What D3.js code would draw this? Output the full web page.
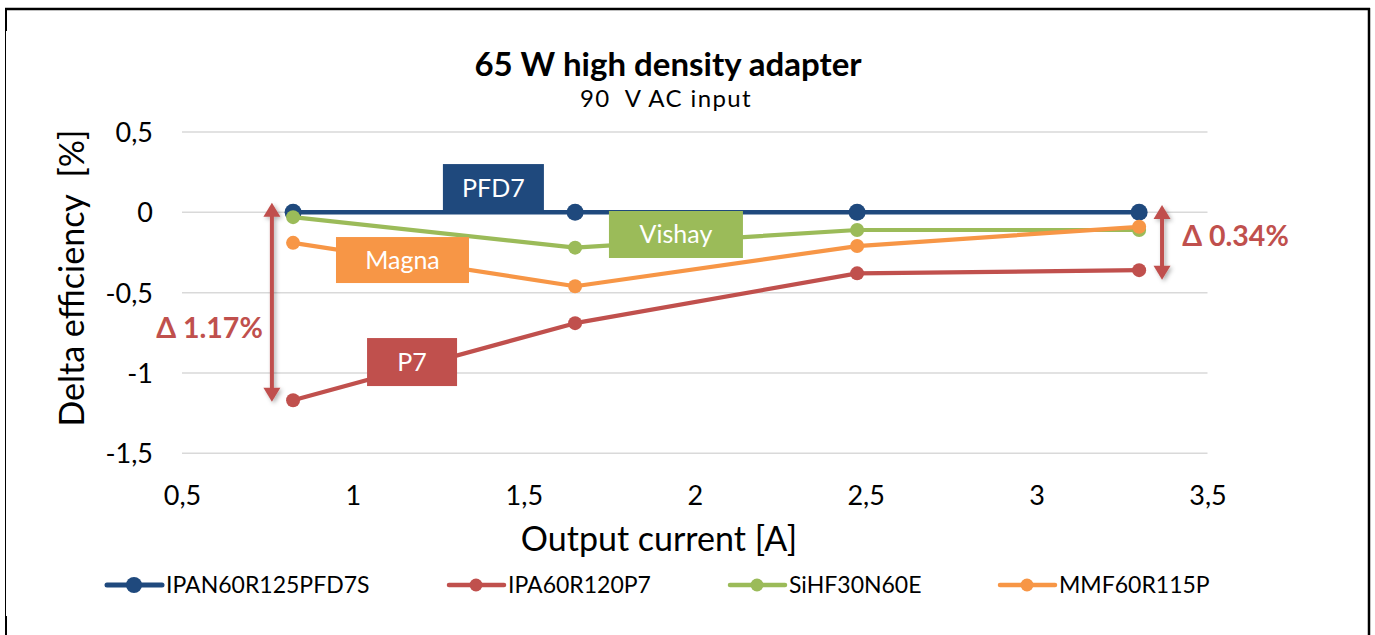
<!DOCTYPE html>
<html>
<head>
<meta charset="utf-8">
<script src="https://cdn.jsdelivr.net/npm/d3@7"></script>
<style>
  html, body { margin: 0; padding: 0; background: #fff; }
  svg text { font-family: Lato, "Open Sans", sans-serif; }
</style>
</head>
<body>
<svg id="chart" width="1375" height="635"></svg>
<script>
// ---- data ----
const currents = [0.825, 1.65, 2.475, 3.3];
const seriesNames = ["IPAN60R125PFD7S", "IPA60R120P7", "SiHF30N60E", "MMF60R115P"];
const seriesColors = ["#1F497D", "#C0504D", "#9BBB59", "#F79646"];
const pfd7Values = [0, 0, 0, 0];
const p7Values = [-1.17, -0.69, -0.38, -0.36];
const vishayValues = [-0.03, -0.22, -0.11, -0.11];
const magnaValues = [-0.19, -0.46, -0.21, -0.09];
const xTicks = [0.5, 1, 1.5, 2, 2.5, 3, 3.5];
const xTickLabels = ["0,5", "1", "1,5", "2", "2,5", "3", "3,5"];
const yTicks = [0.5, 0, -0.5, -1, -1.5];
const yTickLabels = ["0,5", "0", "-0,5", "-1", "-1,5"];
const boxLabels = ["PFD7", "P7", "Vishay", "Magna"];
const boxX = [1.411, 1.173, 1.945, 1.145];
const boxY = [0.151, -0.932, -0.138, -0.297];
const deltaLabels = ["Δ 1.17%", "Δ 0.34%"];
const arrowX = [0.763, 3.367];
const arrowTop = [0.06, 0.045];
const arrowBottom = [-1.179, -0.42];
const title = "65 W high density adapter";
const subtitle = "90  V AC input";
const xTitle = "Output current [A]";
const yTitle = "Delta efficiency  [%]";

const allValues = [pfd7Values, p7Values, vishayValues, magnaValues];

const svg = d3.select("#chart");
const x = d3.scaleLinear().domain([0.5, 3.5]).range([182, 1207.5]);
const y = d3.scaleLinear().domain([-1.5, 0.5]).range([453.3, 132]);

// border
svg.append("line").attr("x1", 5).attr("x2", 1370).attr("y1", 9).attr("y2", 9).attr("stroke", "#000").attr("stroke-width", 2.5);
svg.append("line").attr("x1", 1369).attr("x2", 1369).attr("y1", 8).attr("y2", 635).attr("stroke", "#000").attr("stroke-width", 2.5);
svg.append("line").attr("x1", 5.5).attr("x2", 5.5).attr("y1", 8).attr("y2", 635).attr("stroke", "#000").attr("stroke-width", 1);
svg.append("line").attr("x1", 6).attr("x2", 6).attr("y1", 8).attr("y2", 31).attr("stroke", "#000").attr("stroke-width", 2);
svg.append("line").attr("x1", 6).attr("x2", 6).attr("y1", 616).attr("y2", 635).attr("stroke", "#000").attr("stroke-width", 2);

// title
svg.append("text").attr("x", 668).attr("y", 75.5).attr("text-anchor", "middle")
  .attr("font-size", 33).attr("font-weight", "bold").attr("fill", "#000").text(title);
svg.append("text").attr("x", 666).attr("y", 107).attr("text-anchor", "middle")
  .attr("font-size", 24).attr("letter-spacing", 1.4).attr("fill", "#000").style("white-space", "pre").text(subtitle);

// gridlines
svg.append("g").selectAll("line").data(yTicks).join("line")
  .attr("x1", x(0.5)).attr("x2", x(3.5))
  .attr("y1", d => y(d)).attr("y2", d => y(d))
  .attr("stroke", "#d9d9d9").attr("stroke-width", 1.5);

// y axis
const yAxis = d3.axisLeft(y).tickValues(yTicks).tickSize(0).tickPadding(0)
  .tickFormat((d, i) => yTickLabels[i]);
const gy = svg.append("g").attr("transform", "translate(153,0)").call(yAxis);
gy.select(".domain").remove();
gy.selectAll("text").attr("font-size", 27).attr("fill", "#000")
  .attr("font-family", "Lato, sans-serif").attr("dy", "0.35em");

// x axis
const xAxis = d3.axisBottom(x).tickValues(xTicks).tickSize(0).tickPadding(0)
  .tickFormat((d, i) => xTickLabels[i]);
const gx = svg.append("g").attr("transform", "translate(0,486)").call(xAxis);
gx.select(".domain").remove();
gx.selectAll("text").attr("font-size", 27).attr("fill", "#000")
  .attr("font-family", "Lato, sans-serif").attr("dy", "0.72em");

// axis titles
svg.append("text").attr("x", 659).attr("y", 551).attr("text-anchor", "middle")
  .attr("font-size", 34).attr("fill", "#000").text(xTitle);
svg.append("text").attr("transform", "translate(84,278) rotate(-90)").attr("text-anchor", "middle")
  .attr("font-size", 34).attr("fill", "#000").style("white-space", "pre").text(yTitle);

// shadow filter
const defs = svg.append("defs");
const f = defs.append("filter").attr("id", "sh").attr("x", "-50%").attr("y", "-20%").attr("width", "200%").attr("height", "140%");
f.append("feDropShadow").attr("dx", 2).attr("dy", 2).attr("stdDeviation", 2).attr("flood-color", "#000").attr("flood-opacity", 0.3);

// series
const line = d3.line().x((d, i) => x(currents[i])).y(d => y(d));
allValues.forEach((vals, si) => {
  const g = svg.append("g");
  g.append("path").datum(vals).attr("d", line).attr("fill", "none")
    .attr("stroke", seriesColors[si]).attr("stroke-width", si === 0 ? 4.5 : 4.2)
    .attr("stroke-linejoin", "round");
  g.selectAll("circle").data(vals).join("circle")
    .attr("cx", (d, i) => x(currents[i])).attr("cy", d => y(d))
    .attr("r", si === 0 ? 8.5 : 7).attr("fill", seriesColors[si]);
});

// arrows
arrowX.forEach((ax, i) => {
  const g = svg.append("g").attr("filter", "url(#sh)");
  const cx = x(ax), t = y(arrowTop[i]), b = y(arrowBottom[i]);
  const hw = 8.5, hl = 14;
  g.append("line").attr("x1", cx).attr("x2", cx).attr("y1", t + hl - 1).attr("y2", b - hl + 1)
    .attr("stroke", "#C0504D").attr("stroke-width", 4);
  g.append("path").attr("d", `M${cx},${t} L${cx + hw},${t + hl} L${cx - hw},${t + hl} Z`).attr("fill", "#C0504D");
  g.append("path").attr("d", `M${cx},${b} L${cx + hw},${b - hl} L${cx - hw},${b - hl} Z`).attr("fill", "#C0504D");
});

// delta labels
svg.append("text").attr("x", 209.5).attr("y", 338).attr("text-anchor", "middle")
  .attr("font-size", 28.5).attr("font-weight", "bold").attr("fill", "#C0504D").text(deltaLabels[0]);
svg.append("text").attr("x", 1235.5).attr("y", 246).attr("text-anchor", "middle")
  .attr("font-size", 28.5).attr("font-weight", "bold").attr("fill", "#C0504D").text(deltaLabels[1]);

// label boxes
const boxW = [101, 90, 134, 133];
const boxH = [48, 48, 47, 46];
boxLabels.forEach((lab, i) => {
  const cx = x(boxX[i]), cy = y(boxY[i]);
  svg.append("rect").attr("x", cx - boxW[i] / 2).attr("y", cy - boxH[i] / 2)
    .attr("width", boxW[i]).attr("height", boxH[i]).attr("fill", seriesColors[i]);
  svg.append("text").attr("x", cx).attr("y", cy).attr("dy", "0.36em").attr("text-anchor", "middle")
    .attr("font-size", 25).attr("fill", "#fff").text(lab);
});

// legend
const legX = [107, 449, 730, 1000];
const legend = svg.append("g").attr("transform", "translate(0,585)");
seriesNames.forEach((name, i) => {
  const g = legend.append("g").attr("transform", `translate(${legX[i]},0)`);
  g.append("line").attr("x1", 0).attr("x2", 55).attr("y1", 0).attr("y2", 0)
    .attr("stroke", seriesColors[i]).attr("stroke-width", i === 0 ? 5 : 4.5).attr("stroke-linecap", "round");
  g.append("circle").attr("cx", 27).attr("cy", 0).attr("r", i === 0 ? 8 : 6.5).attr("fill", seriesColors[i]);
  g.append("text").attr("x", 59).attr("y", 0).attr("dy", "0.36em").attr("font-size", 23)
    .attr("fill", "#000").text(name);
});
</script>
</body>
</html>
